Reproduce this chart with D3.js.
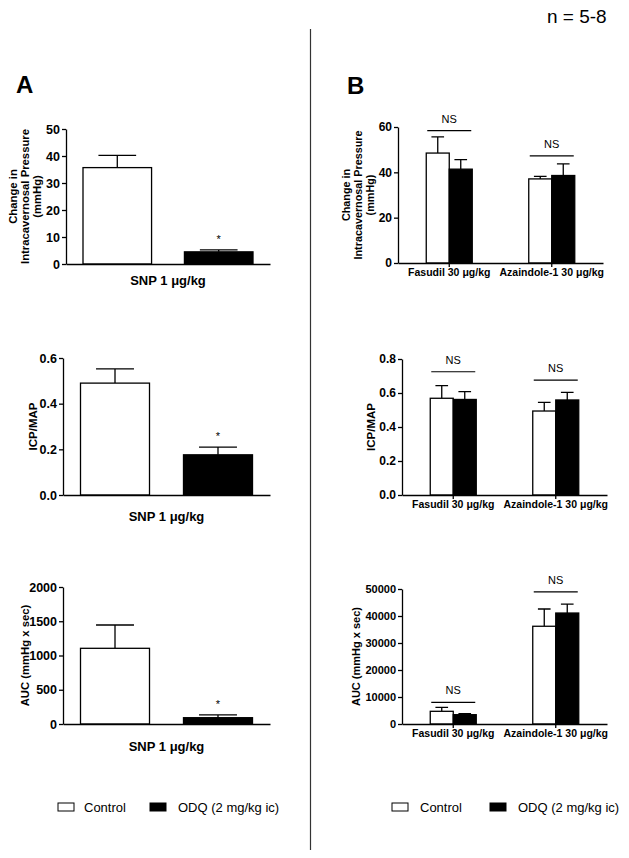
<!DOCTYPE html>
<html>
<head>
<style>
	body { margin: 0; background: #fff; }
	svg text { font-family: "Liberation Sans", Arial, sans-serif; fill: #000; }
</style>
<script src="https://d3js.org/d3.v7.min.js"></script>
</head>
<body>
<div id="chart"></div>
<script>
	// Series and categories
	const seriesNames = ["Control", "ODQ (2 mg/kg ic)"];
	const snpCategory = ["SNP 1 μg/kg"];
	const kinaseCategories = ["Fasudil 30 μg/kg", "Azaindole-1 30 μg/kg"];

	// Panel A - change in ICP
	const aIcpControl = [35.7], aIcpControlSem = [4.5];
	const aIcpOdq = [4.5], aIcpOdqSem = [0.7];
	const aIcpTicks = [0, 10, 20, 30, 40, 50];
	// Panel A - ICP/MAP
	const aRatioControl = [0.49], aRatioControlSem = [0.062];
	const aRatioOdq = [0.176], aRatioOdqSem = [0.034];
	const aRatioTicks = [0, 0.2, 0.4, 0.6];
	// Panel A - AUC
	const aAucControl = [1105], aAucControlSem = [340];
	const aAucOdq = [92], aAucOdqSem = [40];
	const aAucTicks = [0, 500, 1000, 1500, 2000];

	// Panel B - change in ICP
	const bIcpControl = [48.5, 37.1], bIcpControlSem = [7.1, 1.1];
	const bIcpOdq = [41.4, 38.6], bIcpOdqSem = [4.2, 5.1];
	const bIcpTicks = [0, 20, 40, 60];
	const bIcpNs = [58.4, 47.3];
	// Panel B - ICP/MAP
	const bRatioControl = [0.569, 0.494], bRatioControlSem = [0.074, 0.051];
	const bRatioOdq = [0.562, 0.559], bRatioOdqSem = [0.046, 0.045];
	const bRatioTicks = [0, 0.2, 0.4, 0.6, 0.8];
	const bRatioNs = [0.725, 0.676];
	// Panel B - AUC
	const bAucControl = [4700, 36200], bAucControlSem = [1450, 6400];
	const bAucOdq = [3450, 41100], bAucOdqSem = [350, 3300];
	const bAucTicks = [0, 10000, 20000, 30000, 40000, 50000];
	const bAucNs = [8000, 48900];

	const fills = ["#fff", "#000"];

	const svg = d3.select("#chart").append("svg")
		.attr("width", 629)
		.attr("height", 858);

	// layout of each small chart
	const panels = [
		{ cats: snpCategory, vals: [aIcpControl, aIcpOdq], sems: [aIcpControlSem, aIcpOdqSem], ticks: aIcpTicks, fmt: d3.format("d"),
		  ax: 66, xEnd: 270, yTop: 129, yBot: 264, pairW: 170, gap: 0.324, star: true, tickSize: 12.5,
		  label: ["Change in", "Intracavernosal Pressure", "(mmHg)"], labX: 25, labSize: 11.3, catSize: 13, xTick: 0, xPad: 12 },
		{ cats: snpCategory, vals: [aRatioControl, aRatioOdq], sems: [aRatioControlSem, aRatioOdqSem], ticks: aRatioTicks, fmt: d3.format(".1f"),
		  ax: 63, xEnd: 270, yTop: 358, yBot: 495, pairW: 172, gap: 0.33, star: true, tickSize: 12.5,
		  label: ["ICP/MAP"], labX: 33, labSize: 11.5, catSize: 13, xTick: 0, xPad: 17 },
		{ cats: snpCategory, vals: [aAucControl, aAucOdq], sems: [aAucControlSem, aAucOdqSem], ticks: aAucTicks, fmt: d3.format("d"),
		  ax: 63, xEnd: 270, yTop: 587, yBot: 724, pairW: 172, gap: 0.33, star: true, tickSize: 12.5,
		  label: ["AUC (mmHg x sec)"], labX: 25, labSize: 11.3, catSize: 13, xTick: 0, xPad: 18 },
		{ cats: kinaseCategories, vals: [bIcpControl, bIcpOdq], sems: [bIcpControlSem, bIcpOdqSem], ticks: bIcpTicks, fmt: d3.format("d"),
		  ax: 398, xEnd: 603, yTop: 127, yBot: 263, pairW: 46, gap: 0, ns: bIcpNs, tickSize: 12,
		  label: ["Change in", "Intracavernosal Pressure", "(mmHg)"], labX: 358, labSize: 10.8, catSize: 10.5, xTick: 4, xPad: 2 },
		{ cats: kinaseCategories, vals: [bRatioControl, bRatioOdq], sems: [bRatioControlSem, bRatioOdqSem], ticks: bRatioTicks, fmt: d3.format(".1f"),
		  ax: 402, xEnd: 607, yTop: 359, yBot: 495, pairW: 46, gap: 0, ns: bRatioNs, tickSize: 12,
		  label: ["ICP/MAP"], labX: 371, labSize: 11.5, catSize: 10.5, xTick: 4, xPad: 2 },
		{ cats: kinaseCategories, vals: [bAucControl, bAucOdq], sems: [bAucControlSem, bAucOdqSem], ticks: bAucTicks, fmt: d3.format("d"),
		  ax: 402, xEnd: 607, yTop: 589, yBot: 724, pairW: 46, gap: 0, ns: bAucNs, tickSize: 11,
		  label: ["AUC (mmHg x sec)"], labX: 356, labSize: 11, catSize: 10.5, xTick: 4, xPad: 2 }
	];

	function drawPanel(p) {
		const g = svg.append("g");
		const y = d3.scaleLinear()
			.domain([0, p.ticks[p.ticks.length - 1]])
			.range([p.yBot, p.yTop]);
		const x0 = d3.scaleBand().domain(p.cats).range([p.ax, p.xEnd]);
		const x1 = d3.scaleBand().domain(seriesNames)
			.range([-p.pairW / 2, p.pairW / 2])
			.paddingInner(p.gap);
		const cx = function(c) { return x0(c) + x0.bandwidth() / 2; };

		// flatten to one record per bar
		const bars = [];
		p.cats.forEach(function(c, i) {
			seriesNames.forEach(function(s, j) {
				bars.push({ cat: c, s: s, j: j, v: p.vals[j][i], e: p.sems[j][i] });
			});
		});

		// error bars (upper only)
		const capW = x1.bandwidth() * 0.55;
		g.selectAll(".err").data(bars).enter().append("path")
			.attr("d", function(d) {
				const mx = cx(d.cat) + x1(d.s) + x1.bandwidth() / 2;
				const t = y(d.v + d.e);
				return "M" + mx + "," + y(d.v) + "V" + t + "M" + (mx - capW / 2) + "," + t + "H" + (mx + capW / 2);
			})
			.attr("stroke", "#000")
			.attr("stroke-width", 1.3)
			.attr("fill", "none");

		g.selectAll("rect").data(bars).enter().append("rect")
			.attr("x", function(d) { return cx(d.cat) + x1(d.s); })
			.attr("y", function(d) { return y(d.v); })
			.attr("width", x1.bandwidth())
			.attr("height", function(d) { return y(0) - y(d.v); })
			.attr("fill", function(d) { return fills[d.j]; })
			.attr("stroke", "#000")
			.attr("stroke-width", 1.3);

		// significance star over ODQ bar
		if (p.star) {
			bars.filter(function(d) { return d.j === 1; }).forEach(function(d) {
				g.append("text")
					.attr("x", cx(d.cat) + x1(d.s) + x1.bandwidth() / 2)
					.attr("y", y(d.v + d.e) - 7)
					.attr("text-anchor", "middle")
					.attr("font-size", 11)
					.text("*");
			});
		}

		// NS lines over each group
		if (p.ns) {
			p.cats.forEach(function(c, i) {
				const ly = y(p.ns[i]);
				g.append("line")
					.attr("x1", cx(c) - 22).attr("x2", cx(c) + 22)
					.attr("y1", ly).attr("y2", ly)
					.attr("stroke", "#000").attr("stroke-width", 1.2);
				g.append("text")
					.attr("x", cx(c))
					.attr("y", ly - 8)
					.attr("text-anchor", "middle")
					.attr("font-size", 11)
					.text("NS");
			});
		}

		// axes
		const yAxis = g.append("g")
			.attr("transform", "translate(" + p.ax + ",0)")
			.call(d3.axisLeft(y).tickValues(p.ticks).tickFormat(p.fmt).tickSize(4).tickSizeOuter(0).tickPadding(2));
		yAxis.selectAll("text").attr("font-size", p.tickSize).attr("font-weight", "bold").attr("font-family", null);

		const xAxis = g.append("g")
			.attr("transform", "translate(0," + p.yBot + ")")
			.call(d3.axisBottom(x0).tickSize(p.xTick).tickSizeOuter(0).tickPadding(p.xPad));
		xAxis.selectAll("text").attr("font-size", p.catSize).attr("font-weight", "bold").attr("font-family", null);

		g.selectAll(".domain, .tick line").attr("stroke", "#000").attr("stroke-width", 1.3);

		// y label, rotated
		const midY = (p.yTop + p.yBot) / 2;
		const n = p.label.length;
		const lab = g.append("text")
			.attr("transform", "translate(" + p.labX + "," + midY + ") rotate(-90)")
			.attr("text-anchor", "middle")
			.attr("font-size", p.labSize)
			.attr("font-weight", "bold");
		p.label.forEach(function(t, i) {
			lab.append("tspan")
				.attr("x", 0)
				.attr("y", (i - (n - 1) / 2) * 11.8)
				.attr("dy", "0.35em")
				.text(t);
		});
	}

	panels.forEach(drawPanel);

	// panel letters and header
	svg.append("text").attr("x", 16).attr("y", 93).attr("font-size", 24).attr("font-weight", "bold").text("A");
	svg.append("text").attr("x", 347).attr("y", 94).attr("font-size", 24).attr("font-weight", "bold").text("B");
	svg.append("text").attr("x", 547).attr("y", 23).attr("font-size", 19).text("n = 5-8");

	// divider
	svg.append("line")
		.attr("x1", 310.5).attr("x2", 310.5)
		.attr("y1", 29).attr("y2", 850)
		.attr("stroke", "#333").attr("stroke-width", 1.2);

	// legends
	function drawLegend(pos) {
		const lg = svg.append("g");
		lg.selectAll("rect").data(seriesNames).enter().append("rect")
			.attr("x", function(d, i) { return pos[i * 2]; })
			.attr("y", 803)
			.attr("width", 16)
			.attr("height", 8)
			.attr("fill", function(d, i) { return fills[i]; })
			.attr("stroke", "#000")
			.attr("stroke-width", 1);
		lg.selectAll("text").data(seriesNames).enter().append("text")
			.attr("x", function(d, i) { return pos[i * 2 + 1]; })
			.attr("y", 807)
			.attr("dy", "0.35em")
			.attr("font-size", 13)
			.text(function(d) { return d; });
	}
	drawLegend([58, 84, 150, 178]);
	drawLegend([392, 420, 490, 518]);
</script>
</body>
</html>
